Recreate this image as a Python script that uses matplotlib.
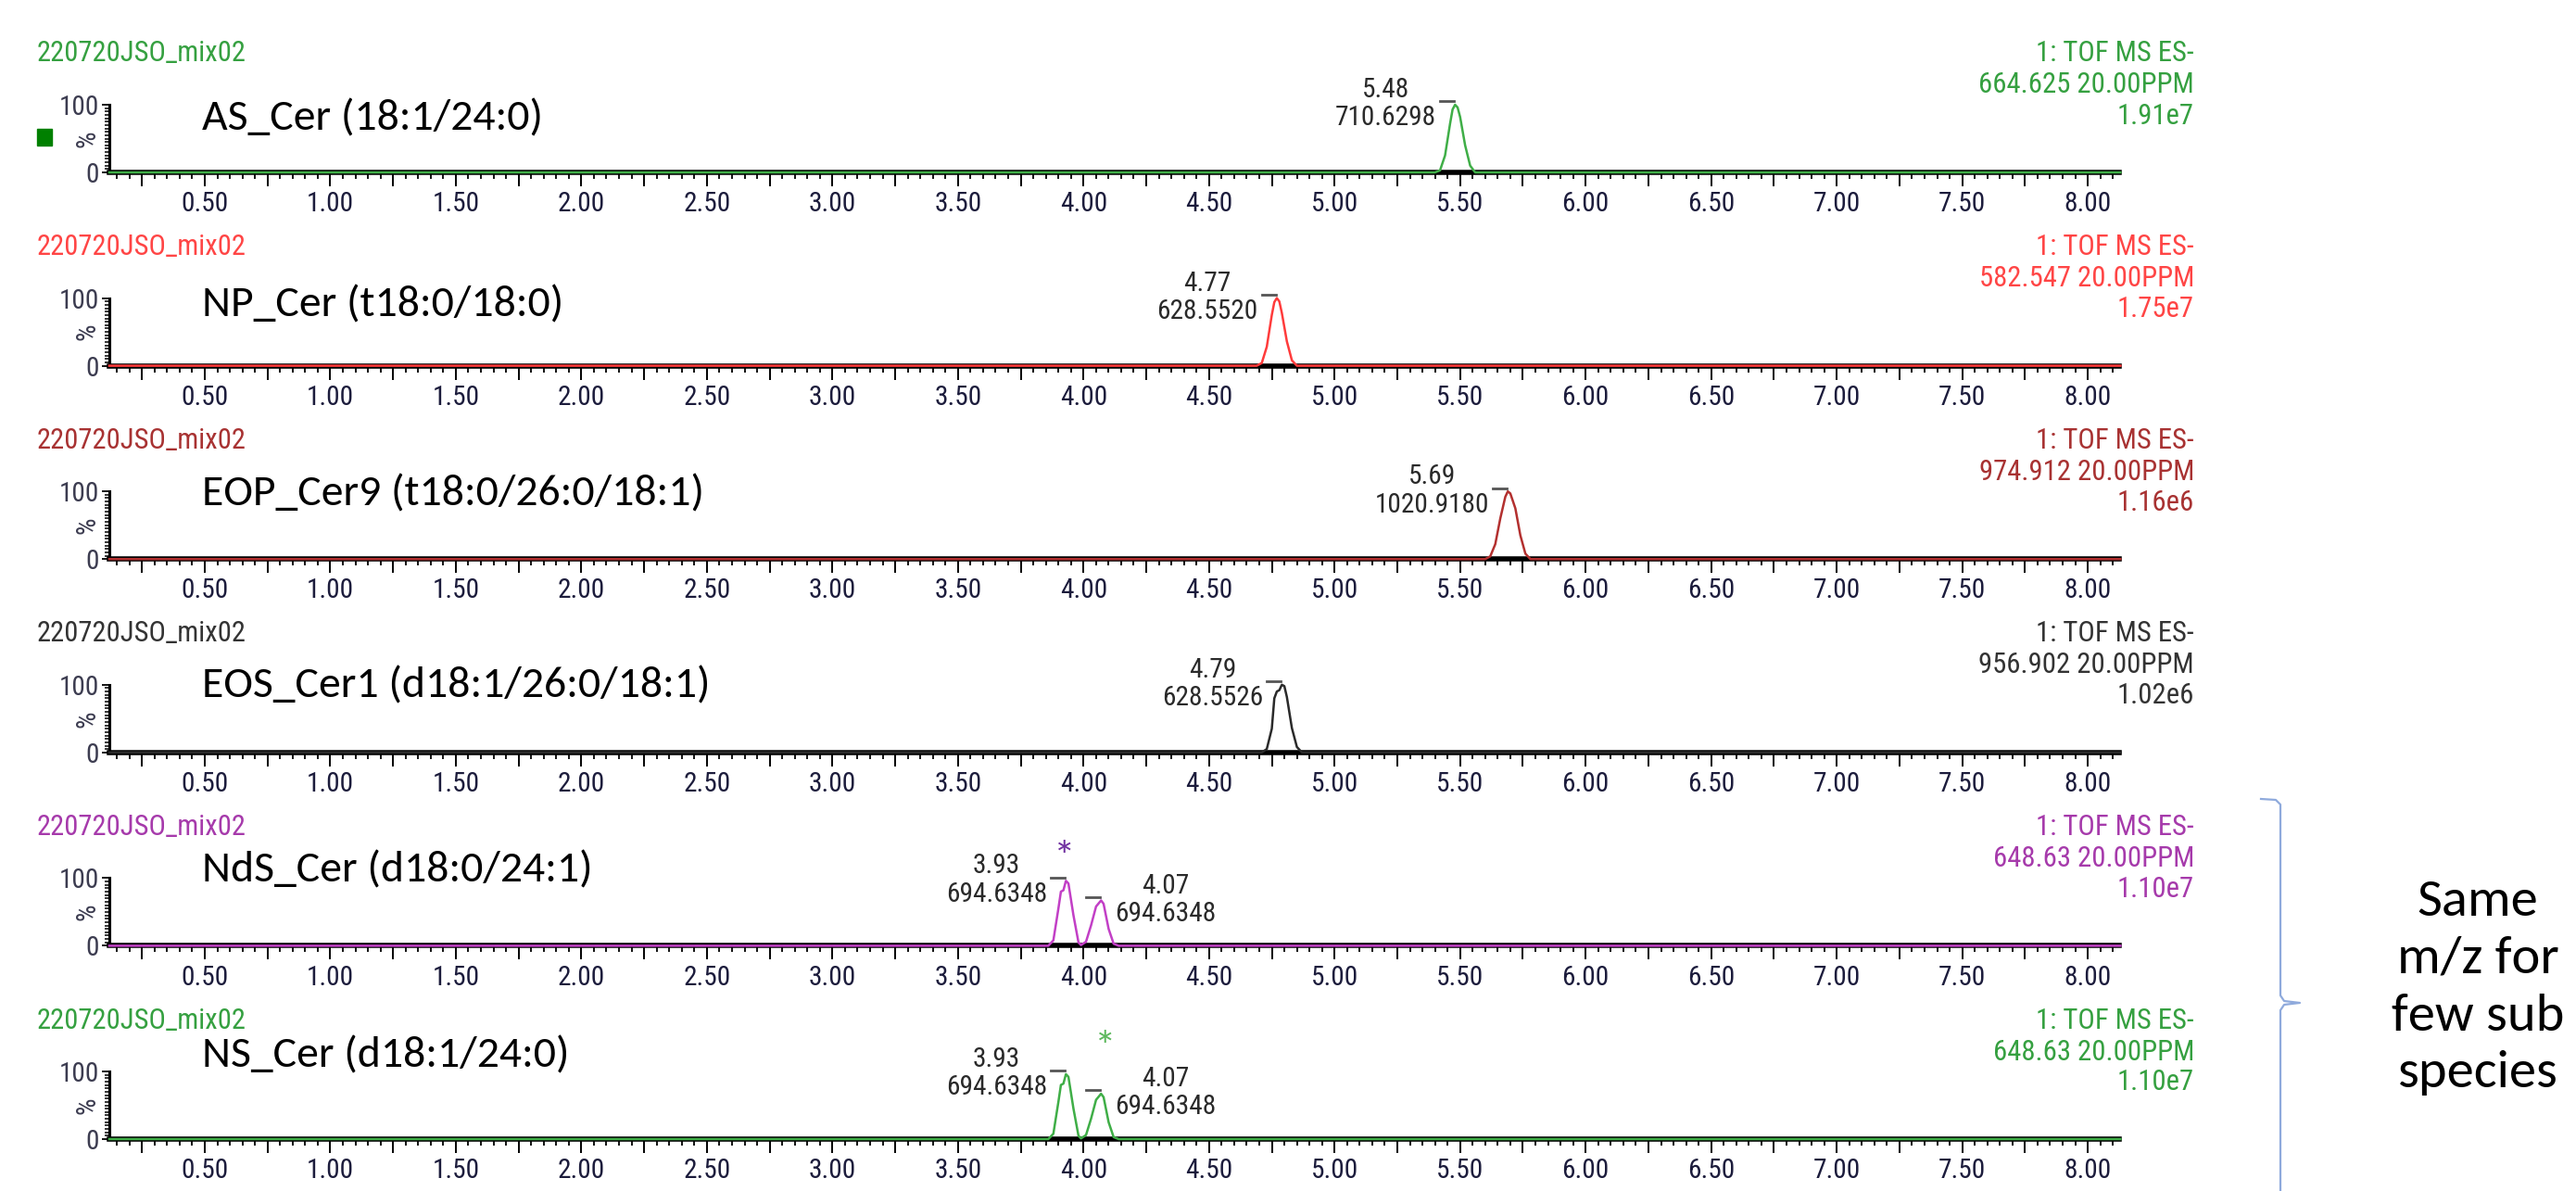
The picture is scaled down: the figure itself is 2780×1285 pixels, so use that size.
import matplotlib
matplotlib.use("Agg")
import matplotlib.pyplot as plt
from matplotlib import font_manager
from matplotlib.lines import Line2D
from matplotlib.patches import Rectangle
from matplotlib.ticker import MultipleLocator, FuncFormatter

W, H = 2780, 1285

# pick a narrow sans for the instrument text if one is installed
fonts = font_manager.fontManager.ttflist
names = {f.name for f in fonts}
NARROW, NSTRETCH = "Liberation Sans", "normal"
for cand in ["Liberation Sans Narrow", "Arial Narrow", "Roboto Condensed", "Open Sans Condensed"]:
    if cand in names:
        NARROW = cand
        break
else:
    if any(f.name == "DejaVu Sans" and f.stretch == "condensed" for f in fonts):
        NARROW, NSTRETCH = "DejaVu Sans", "condensed"
OFFICE = "Carlito" if "Carlito" in names else "Lato"
NFONT = dict(family=NARROW, stretch=NSTRETCH)

# --- data ---
sample = "220720JSO_mix02"
compounds = ["AS_Cer (18:1/24:0)", "NP_Cer (t18:0/18:0)", "EOP_Cer9 (t18:0/26:0/18:1)",
             "EOS_Cer1 (d18:1/26:0/18:1)", "NdS_Cer (d18:0/24:1)", "NS_Cer (d18:1/24:0)"]
mz_window = ["664.625", "582.547", "974.912", "956.902", "648.63", "648.63"]
intensity = ["1.91e7", "1.75e7", "1.16e6", "1.02e6", "1.10e7", "1.10e7"]

as_t = [0.12, 5.40, 5.42, 5.44, 5.46, 5.47, 5.48, 5.49, 5.50, 5.52, 5.54, 5.56, 8.13]
as_i = [0, 0, 3, 25, 72, 93, 100, 96, 82, 40, 10, 0, 0]
np_t = [0.12, 4.69, 4.71, 4.73, 4.75, 4.76, 4.77, 4.78, 4.79, 4.81, 4.83, 4.85, 8.13]
np_i = [0, 0, 4, 28, 75, 94, 100, 95, 78, 36, 8, 0, 0]
eop_t = [0.12, 5.60, 5.62, 5.64, 5.66, 5.68, 5.69, 5.70, 5.72, 5.74, 5.76, 5.78, 8.13]
eop_i = [0, 0, 4, 22, 60, 92, 100, 97, 75, 35, 8, 0, 0]
eos_t = [0.12, 4.71, 4.73, 4.75, 4.76, 4.77, 4.78, 4.79, 4.80, 4.81, 4.83, 4.85, 4.87, 8.13]
eos_i = [0, 0, 5, 35, 80, 90, 92, 100, 98, 82, 36, 8, 0, 0]
nds_t = [0.12, 3.86, 3.88, 3.90, 3.91, 3.92, 3.93, 3.94, 3.96, 3.98, 3.99, 4.01, 4.03,
         4.05, 4.07, 4.08, 4.10, 4.12, 4.14, 8.13]
nds_i = [0, 0, 8, 55, 80, 82, 96, 92, 45, 5, 1, 6, 30, 58, 67, 62, 25, 3, 0, 0]
ns_t = [0.12, 3.86, 3.88, 3.90, 3.91, 3.92, 3.93, 3.94, 3.96, 3.98, 3.99, 4.01, 4.03,
        4.05, 4.07, 4.08, 4.10, 4.12, 4.14, 8.13]
ns_i = [0, 0, 8, 55, 80, 82, 96, 92, 45, 5, 1, 6, 30, 58, 67, 62, 25, 3, 0, 0]

traces = [(as_t, as_i), (np_t, np_i), (eop_t, eop_i), (eos_t, eos_i), (nds_t, nds_i), (ns_t, ns_i)]

peak_rt = [[5.48], [4.77], [5.69], [4.79], [3.93, 4.07], [3.93, 4.07]]
peak_mz = [["710.6298"], ["628.5520"], ["1020.9180"], ["628.5526"],
           ["694.6348", "694.6348"], ["694.6348", "694.6348"]]
label_side = [["l"], ["l"], ["l"], ["l"], ["l", "r"], ["l", "r"]]
star_rt = [None, None, None, None, 3.925, 4.085]

line_col = ["#3fae47", "#ff3b3b", "#b3302f", "#2a2a2a", "#c23fc6", "#3fae47"]
text_col = ["#35a040", "#ff4545", "#a83232", "#333333", "#a63aab", "#35a040"]
star_col = [None, None, None, None, "#7030a0", "#5cb85c"]

# --- layout (pixels of the 2780x1285 canvas) ---
base0, step = 186, 208.6
ax_left, ax_right = 118, 2287
scale_h = 73            # pixels for 100 %
name_dy = [-58, -66, -70, -72, -82, -90]
star_y = [None, None, None, None, 129, 133]


def fx(x):
    return x / W


def fy(y):
    return 1 - y / H


fig = plt.figure(figsize=(W / 100, H / 100), dpi=100)
fig.patch.set_facecolor("white")
renderer = fig.canvas.get_renderer()


def fit(txt, target_px, **kw):
    # font size giving a text of the measured width
    probe = fig.text(0, 0, txt, fontsize=20, **kw)
    w = probe.get_window_extent(renderer).width
    probe.remove()
    return 20 * target_px / w


FS_HEAD = fit(sample, 227, **NFONT)
FS_INFO = fit("664.625 20.00PPM", 232, **NFONT)
FS_PEAK = fit("710.6298", 109, **NFONT)
FS_NAME = fit(compounds[0], 368, family=OFFICE)
FS_NOTE = fit("few sub", 186, family=OFFICE)

fmt = FuncFormatter(lambda v, p: f"{v:.2f}" if abs(v * 2 - round(v * 2)) < 1e-6 else "")

for i in range(6):
    base = base0 + step * i
    ax = fig.add_axes([fx(ax_left), fy(base), (ax_right - ax_left) / W, scale_h / H])
    ax.set_facecolor("none")
    t, v = traces[i]
    ax.plot(t, v, color=line_col[i], lw=1.8, clip_on=False, zorder=5)
    ax.set_xlim(0.12, 8.125)
    ax.set_ylim(0, 100)

    for s in ("top", "right"):
        ax.spines[s].set_visible(False)
    ax.spines["bottom"].set_linewidth(4)
    ax.spines["left"].set_linewidth(2.2)
    ax.spines["bottom"].set_zorder(1)

    ax.xaxis.set_major_locator(MultipleLocator(0.25))
    ax.xaxis.set_minor_locator(MultipleLocator(0.05))
    ax.xaxis.set_major_formatter(fmt)
    ax.tick_params(axis="x", which="major", length=11, width=1.4, pad=3.5,
                   labelsize=FS_PEAK, labelcolor="#1c1c3c")
    ax.tick_params(axis="x", which="minor", length=5, width=1.3)
    ax.set_yticks([0, 100])
    ax.set_yticklabels(["0", "100"])
    ax.yaxis.set_minor_locator(MultipleLocator(5))
    ax.tick_params(axis="y", which="major", length=6, width=1.3, pad=2,
                   labelsize=FS_PEAK, labelcolor="#3c3c50")
    ax.tick_params(axis="y", which="minor", length=3.5, width=1.1)
    for lab in ax.get_xticklabels() + ax.get_yticklabels():
        lab.set_family(NARROW)
        lab.set_stretch(NSTRETCH)
    ax.text(-0.011, 50, "%", transform=ax.get_yaxis_transform(), rotation=90,
            ha="center", va="center", fontsize=FS_PEAK, color="#3c3c50", **NFONT)

    # peak labels
    for k, rt in enumerate(peak_rt[i]):
        near = [vv for tt, vv in zip(t, v) if abs(tt - rt) < 0.015]
        top = max(near)
        ax.plot([rt - 0.06, rt - 0.005], [top + 5, top + 5], color="#555555", lw=2,
                clip_on=False, zorder=6)
        txt = f"{rt:.2f}\n{peak_mz[i][k]}"
        if label_side[i][k] == "l":
            ax.text(rt - 0.075, top + 1, txt, ha="right", va="center", multialignment="center",
                    fontsize=FS_PEAK, color="#2a2a2a", linespacing=1.1, **NFONT)
        else:
            ax.text(rt + 0.055, top + 1, txt, ha="left", va="center", multialignment="center",
                    fontsize=FS_PEAK, color="#2a2a2a", linespacing=1.1, **NFONT)
    if star_rt[i] is not None:
        ax.text(star_rt[i], star_y[i], "*", ha="center", va="center", fontsize=34,
                family=OFFICE, color=star_col[i])

    # header and channel info
    fig.text(fx(40), fy(base - 128), sample, ha="left", va="center",
             fontsize=FS_HEAD, color=text_col[i], **NFONT)
    info = ["1: TOF MS ES-", f"{mz_window[i]} 20.00PPM", intensity[i]]
    for k, dy in enumerate([-128, -94, -61]):
        fig.text(fx(2368), fy(base + dy), info[k], ha="right", va="center",
                 fontsize=FS_INFO, color=text_col[i], **NFONT)
    fig.text(fx(218), fy(base + name_dy[i]), compounds[i], ha="left", va="center",
             fontsize=FS_NAME, family=OFFICE, color="black")

# small green marker at the first trace
fig.add_artist(Rectangle((fx(40), fy(157)), 16 / W, 18 / H, transform=fig.transFigure,
                         color="#008000"))

# brace and note on the right
bx = [2440, 2456, 2461, 2461, 2465, 2482, 2465, 2461, 2461]
by = [862, 863, 868, 1074, 1080, 1082, 1084, 1090, 1300]
fig.add_artist(Line2D([fx(x) for x in bx], [fy(y) for y in by], transform=fig.transFigure,
                      color="#8faadc", lw=1.6))
note = ["Same", "m/z for", "few sub", "species"]
for k, line in enumerate(note):
    fig.text(fx(2674), fy(972 + 62 * k), line, ha="center", va="center",
             fontsize=FS_NOTE, family=OFFICE, color="black")

fig.savefig("out.png", dpi=100)
